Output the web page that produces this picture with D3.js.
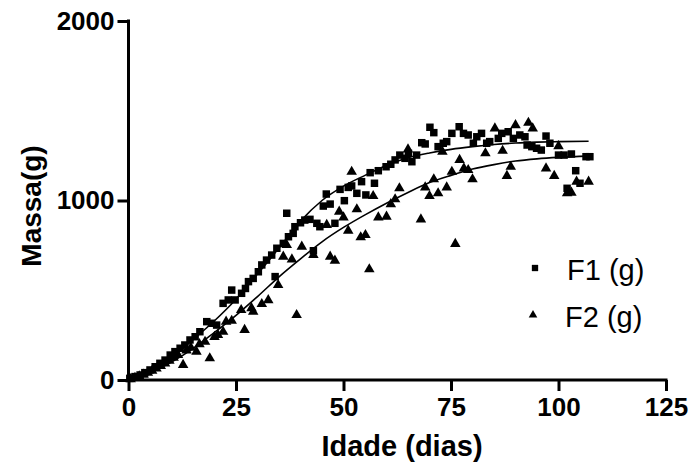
<!DOCTYPE html>
<html><head><meta charset="utf-8">
<script src="https://cdn.jsdelivr.net/npm/d3@7"></script>
<style>body{margin:0;background:#fff}svg{display:block}</style>
</head><body>
<svg id="c" width="692" height="468"></svg>
<script>
// F1 (g) — squares: [day, mass]
const f1Days = [0.3,1.5,2.7,3.8,5,6.2,7.3,8.5,9.7,10.8,12,13.1,14.3,15.5,16.6,18.2,19.3,20.5,22,23.2,24,24.8,26.3,27.2,27.9,29,30.2,31,32.1,33.3,34.1,34.5,36,37.2,36.8,38.3,38.7,40,41,42.2,43,43.8,44.5,45.3,46,46.9,48,49.2,50.2,51.1,51.9,53.1,54.2,55.2,56.2,57.2,58.1,59.9,61,62,63.1,64.3,65.1,65.9,67,68.2,69,70.1,71,72,73.2,74,75.2,76.9,77.9,79,80.2,81,82.1,83.3,84,86,86.8,88.3,89.5,91,92.2,92.7,93.8,94.9,96,97.1,98,100,101.3,102,103,104,105,106.4,107.3];
const f1Mass = [9,19,28,41,56,74,93,111,139,158,177,195,223,241,269,325,316,306,427,446,501,446,483,510,548,566,603,641,668,696,576,734,761,798,929,817,854,876,891,895,720,873,854,969,1036,980,873,1062,999,1073,1081,1040,1105,1031,1155,1096,1166,1188,1202,1226,1253,1235,1263,1216,1253,1322,1315,1408,1378,1300,1319,1328,1374,1411,1374,1365,1319,1355,1374,1319,1328,1346,1374,1383,1346,1365,1355,1309,1300,1291,1281,1359,1319,1253,1253,1068,1259,1166,1096,1244,1244];
// F2 (g) — triangles: [day, mass]
const f2Days = [0.5,1.5,2.5,3.5,4.5,5.5,6.5,7.5,8.5,9.5,10.5,11.5,12.7,13.5,14.5,15.8,16.5,17.8,18.9,20,20.8,22,22.7,24,26.2,27,28.6,29,31,32.5,34.8,36,36.8,38,39.1,40.3,43,46.1,46.9,48,49,50,51.1,51.9,53.1,54,55.1,56,56.9,58.1,60,61,62,63,65,68,69,70,71,72,73,74,75.2,76,77,78,79,80,83,85.2,87,88,88.9,90,93,94,97.1,99,100,102,103,104.2,107];
const f2Mass = [5,12,20,30,40,52,64,78,92,108,124,140,84,165,180,158,200,213,121,240,251,269,325,330,390,279,400,380,423,445,529,687,752,672,362,743,696,864,687,665,938,906,832,1160,951,795,808,617,1025,906,910,980,1007,1068,1285,895,1073,1025,1118,1040,1272,1073,1160,758,1226,1179,1170,1118,1263,1402,1277,1137,1188,1420,1433,1402,1179,1137,1303,1040,1044,1105,1105];
// fitted curves
const fitDays = [0,5,10,15,20,25,30,35,40,45,50,55,60,65,70,75,80,85,90,95,100,107];
const fit1 = [5,50,125,225,330,450,590,735,885,1000,1080,1140,1195,1238,1265,1285,1300,1312,1320,1325,1328,1330];
const fit2 = [5,40,100,175,265,360,465,575,675,770,850,920,985,1045,1100,1140,1175,1200,1220,1232,1240,1247];
const xTicks = [0,25,50,75,100,125];
const yTicks = [0,1000,2000];
const seriesNames = ["F1 (g)","F2 (g)"];

const svg = d3.select("#c");
const x = d3.scaleLinear().domain([0,125]).range([128.5,666]);
const y = d3.scaleLinear().domain([0,2000]).range([380,21]);
const F = "Liberation Sans, Arial, Helvetica, sans-serif";

// axes
const xAxis = svg.append("g").attr("transform","translate(0,380)")
  .call(d3.axisBottom(x).tickValues(xTicks).tickSizeInner(11).tickSizeOuter(0).tickPadding(7).tickFormat(d3.format("d")));
const yAxis = svg.append("g").attr("transform","translate(128.5,0)")
  .call(d3.axisLeft(y).tickValues(yTicks).tickSizeInner(11).tickSizeOuter(0).tickPadding(3).tickFormat(d3.format("d")));
[xAxis,yAxis].forEach(g=>{
  g.select(".domain").attr("stroke","#000").attr("stroke-width",3);
  g.selectAll(".tick line").attr("stroke","#000").attr("stroke-width",3);
  g.selectAll(".tick text").attr("fill","#000").attr("font-family",F).attr("font-weight","bold").attr("font-size",26);
});
xAxis.select(".domain").attr("d",`M${x(0)-1.5},0H${x(125)+1.5}`);
yAxis.select(".domain").attr("d",`M0,${y(0)+1.5}V${y(2000)-1.5}`);

// fits
const line = d3.line().curve(d3.curveMonotoneX);
svg.append("path").attr("d",line(fitDays.map((d,i)=>[x(d),y(fit1[i])]))).attr("fill","none").attr("stroke","#000").attr("stroke-width",1.6);
svg.append("path").attr("d",line(fitDays.map((d,i)=>[x(d),y(fit2[i])]))).attr("fill","none").attr("stroke","#000").attr("stroke-width",1.6);

// points
const sq = d3.symbol().type(d3.symbolSquare).size(56);
const tri = d3.symbol().type(d3.symbolTriangle).size(48);
svg.append("g").selectAll("path").data(f2Days.map((d,i)=>[d,f2Mass[i]])).join("path")
  .attr("d",tri).attr("transform",d=>`translate(${x(d[0])},${y(d[1])})`).attr("fill","#000");
svg.append("g").selectAll("path").data(f1Days.map((d,i)=>[d,f1Mass[i]])).join("path")
  .attr("d",sq).attr("transform",d=>`translate(${x(d[0])},${y(d[1])})`).attr("fill","#000");

// titles
svg.append("text").attr("x",402).attr("y",456).attr("text-anchor","middle").attr("font-family",F).attr("font-weight","bold").attr("font-size",29).text("Idade (dias)");
svg.append("text").attr("transform","translate(41,206) rotate(-90)").attr("text-anchor","middle").attr("font-family",F).attr("font-weight","bold").attr("font-size",28).text("Massa(g)");

// legend
const leg = svg.append("g");
leg.append("path").attr("d",d3.symbol().type(d3.symbolSquare).size(40)).attr("transform","translate(535,268)");
leg.append("path").attr("d",d3.symbol().type(d3.symbolTriangle).size(32)).attr("transform","translate(533,315)");
leg.append("text").attr("x",567).attr("y",280).attr("font-family",F).attr("font-size",29).text(seriesNames[0]);
leg.append("text").attr("x",565).attr("y",327).attr("font-family",F).attr("font-size",29).text(seriesNames[1]);
</script>
</body></html>
